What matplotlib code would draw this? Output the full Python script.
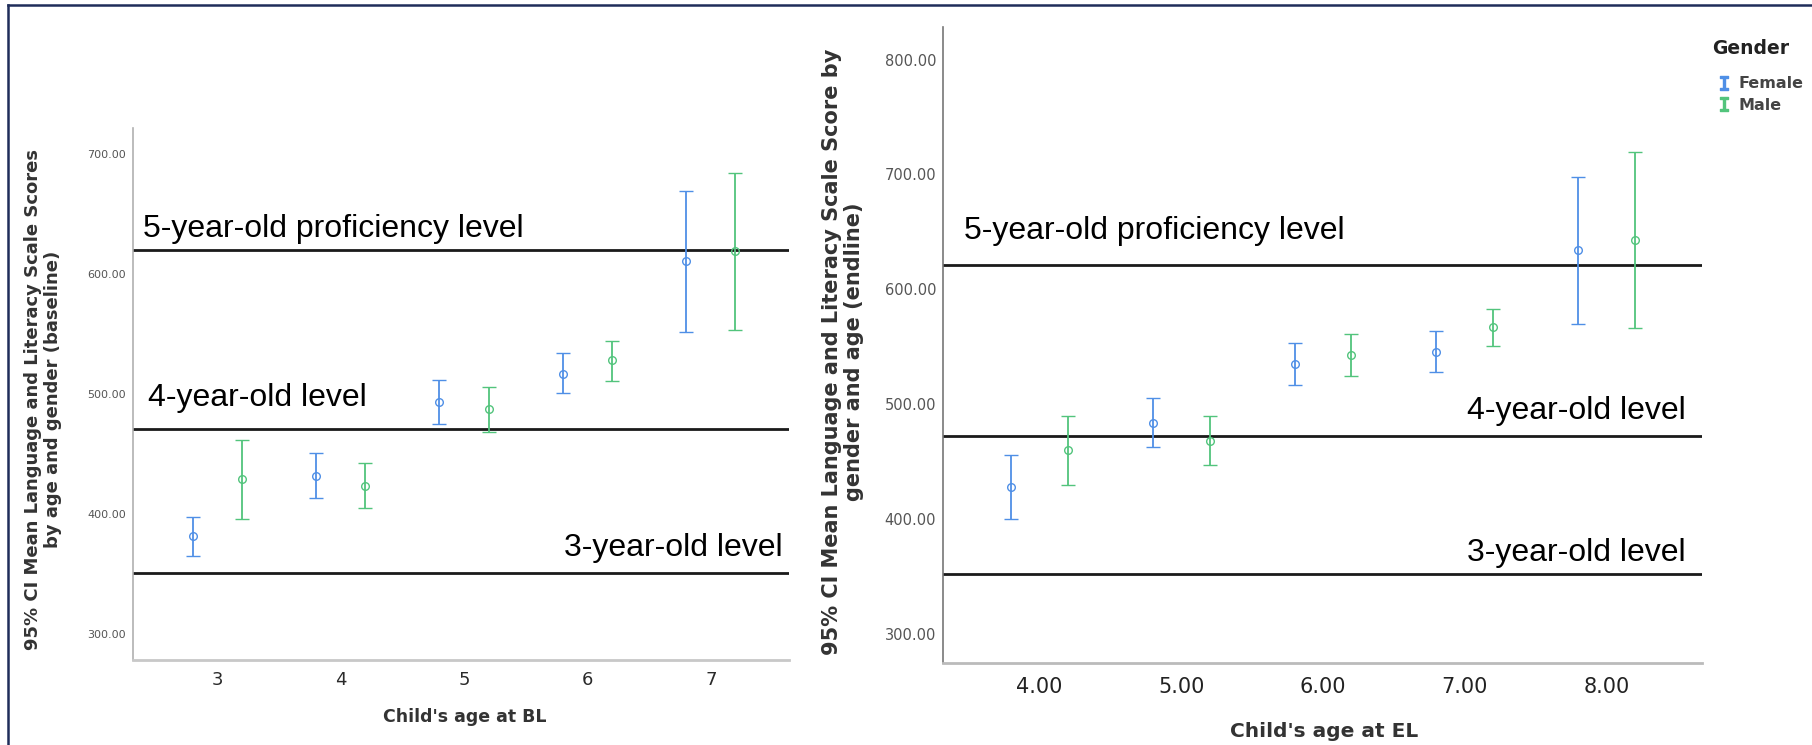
import matplotlib
matplotlib.use("Agg")
import matplotlib.pyplot as plt
from matplotlib.lines import Line2D
import numpy as np

BLUE = "#4f8fe6"
GREEN = "#52c47c"

# baseline panel
ages_bl = [3, 4, 5, 6, 7]
bl_female_mean = [382.0, 432.0, 493.6, 517.2, 610.6]
bl_female_lo = [365.3, 413.6, 475.3, 500.6, 552.2]
bl_female_hi = [397.5, 450.6, 512.2, 534.2, 668.9]
bl_male_mean = [429.2, 423.9, 487.5, 528.1, 618.9]
bl_male_lo = [396.1, 405.6, 468.9, 511.1, 553.6]
bl_male_hi = [462.0, 442.8, 505.8, 544.2, 684.2]
bl_levels = [620, 471, 351]
bl_yticks = [300, 400, 500, 600, 700]

# endline panel
ages_el = [4, 5, 6, 7, 8]
el_female_mean = [427.9, 483.6, 535.3, 545.4, 634.0]
el_female_lo = [400.0, 463.0, 516.7, 527.7, 570.1]
el_female_hi = [455.4, 505.1, 553.6, 563.4, 697.8]
el_male_mean = [459.8, 467.9, 542.5, 566.9, 643.3]
el_male_lo = [429.6, 446.7, 524.2, 550.4, 566.6]
el_male_hi = [490.0, 490.0, 560.8, 582.9, 719.6]
el_levels = [621, 472, 352]
el_yticks = [300, 400, 500, 600, 700, 800]

level_labels = ["5-year-old proficiency level", "4-year-old level", "3-year-old level"]
genders = ["Female", "Male"]

W, H = 1812, 745
fig = plt.figure(figsize=(W / 100, H / 100), dpi=100)


def px_axes(x0, y0, x1, y1):
    return fig.add_axes([x0 / W, 1 - y1 / H, (x1 - x0) / W, (y1 - y0) / H])


def draw_group(ax, ages, mean, lo, hi, color, dx, capsize):
    x = np.array(ages, dtype=float) + dx
    mean = np.array(mean)
    yerr = [mean - np.array(lo), np.array(hi) - mean]
    ax.errorbar(x, mean, yerr=yerr, fmt="o", color=color, ecolor=color,
                mfc="none", mec=color, ms=5.5, mew=1.0,
                elinewidth=1.3, capsize=capsize, capthick=1.3)


def style_axes(ax, spine_left, spine_bottom):
    for s in ("top", "right"):
        ax.spines[s].set_visible(False)
    ax.spines["left"].set_color(spine_left)
    ax.spines["left"].set_linewidth(1.2)
    ax.spines["bottom"].set_color(spine_bottom)
    ax.spines["bottom"].set_linewidth(2.0)
    ax.tick_params(length=0)


level_font = dict(family=["Liberation Sans", "DejaVu Sans"], fontsize=23, color="black")

# ---- left panel (baseline)
ax1 = px_axes(133, 128, 789, 660)
draw_group(ax1, ages_bl, bl_female_mean, bl_female_lo, bl_female_hi, BLUE, -0.2, 4.8)
draw_group(ax1, ages_bl, bl_male_mean, bl_male_lo, bl_male_hi, GREEN, 0.2, 4.8)
for lv in bl_levels:
    ax1.axhline(lv, color="#1a1a1a", lw=2.0, zorder=1)
ax1.set_xlim(2.317, 7.634)
ax1.set_ylim(278.6, 721.7)
ax1.set_xticks(ages_bl)
ax1.set_xticklabels([str(a) for a in ages_bl], fontsize=13, color="#2a2a2a")
ax1.set_yticks(bl_yticks)
ax1.set_yticklabels([f"{v:.2f}" for v in bl_yticks], fontsize=8, color="#555555")
ax1.tick_params(axis="x", pad=8)
ax1.tick_params(axis="y", pad=5)
style_axes(ax1, "#b0b0b0", "#c8c8c8")
ax1.set_xlabel("Child's age at BL", fontsize=12.5, fontweight="bold", color="#333333")
ax1.xaxis.set_label_coords(0.505, -0.107)
ax1.xaxis.label.set_va("center")
ax1.set_ylabel("95% CI Mean Language and Literacy Scale Scores\nby age and gender (baseline)",
               fontsize=13, fontweight="bold", color="#333333", linespacing=1.15)
ax1.yaxis.set_label_coords(-0.137, 0.49)
ax1.yaxis.label.set_va("center")
ax1.text(2.40, 630.8, level_labels[0], va="baseline", ha="left", **level_font)
ax1.text(2.44, 490.2, level_labels[1], va="baseline", ha="left", **level_font)
ax1.text(7.58, 365.2, level_labels[2], va="baseline", ha="right", **level_font)

# ---- right panel (endline)
ax2 = px_axes(943, 27, 1702, 663)
draw_group(ax2, ages_el, el_female_mean, el_female_lo, el_female_hi, BLUE, -0.2, 5.2)
draw_group(ax2, ages_el, el_male_mean, el_male_lo, el_male_hi, GREEN, 0.2, 5.2)
for lv in el_levels:
    ax2.axhline(lv, color="#1a1a1a", lw=2.0, zorder=1)
ax2.set_xlim(3.32, 8.673)
ax2.set_ylim(274.5, 828.4)
ax2.set_xticks(ages_el)
ax2.set_xticklabels([f"{a:.2f}" for a in ages_el], fontsize=15, color="#222222")
ax2.set_yticks(el_yticks)
ax2.set_yticklabels([f"{v:.2f}" for v in el_yticks], fontsize=10.5, color="#555555")
ax2.tick_params(axis="x", pad=10)
ax2.tick_params(axis="y", pad=5)
style_axes(ax2, "#777777", "#bbbbbb")
ax2.set_xlabel("Child's age at EL", fontsize=14.5, fontweight="bold", color="#333333")
ax2.xaxis.set_label_coords(0.502, -0.108)
ax2.xaxis.label.set_va("center")
ax2.set_ylabel("95% CI Mean Language and Literacy Scale Score by\ngender and age (endline)",
               fontsize=15, fontweight="bold", color="#333333", linespacing=1.12)
ax2.yaxis.set_label_coords(-0.132, 0.49)
ax2.yaxis.label.set_va("center")
ax2.text(3.466, 644.1, level_labels[0], va="baseline", ha="left", **level_font)
ax2.text(8.556, 487.4, level_labels[1], va="baseline", ha="right", **level_font)
ax2.text(8.556, 363.5, level_labels[2], va="baseline", ha="right", **level_font)

# legend (title drawn separately so its gap matches the original)
fig.text(1712 / W, 1 - 48.5 / H, "Gender", fontsize=13.5, fontweight="bold",
         color="#222222", ha="left", va="center")
handles = [Line2D([], [], marker=r"$\mathtt{I}$", ls="none", color=c, ms=10)
           for c in (BLUE, GREEN)]
fig.legend(handles, genders, loc="upper left",
           bbox_to_anchor=(1710 / W, 1 - 68.5 / H), frameon=False,
           handlelength=0.8, handletextpad=0.5, labelspacing=0.4, borderpad=0,
           prop=dict(size=11.5, weight="bold"), labelcolor="#444444")

# thin frame at top/left of the original screenshot
fig.add_artist(Line2D([8 / W, 1], [1 - 5 / H, 1 - 5 / H], color="#1f2d5a", lw=1.8))
fig.add_artist(Line2D([8 / W, 8 / W], [0, 1 - 5 / H], color="#1f2d5a", lw=1.8))

fig.savefig("out.png", dpi=100, facecolor="white")
